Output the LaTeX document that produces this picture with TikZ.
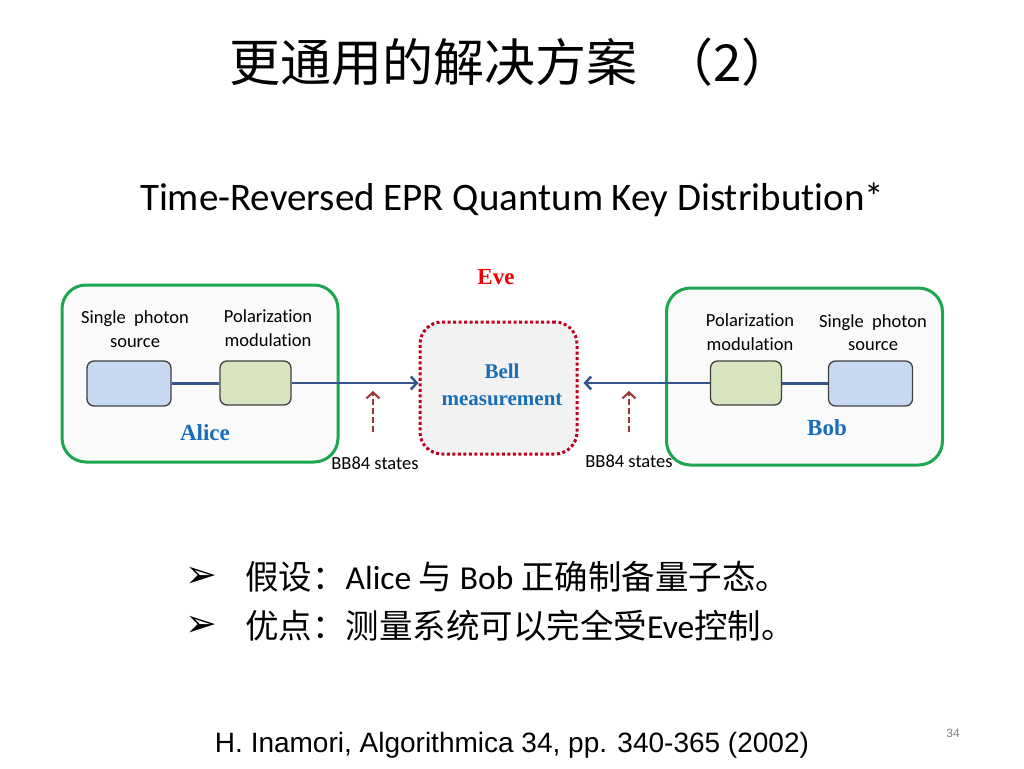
\documentclass[tikz,border=0pt]{standalone}
\usepackage{fontspec}
\setmainfont{Carlito}[Ligatures=NoCommon]
\newfontfamily\cjk{Noto Sans CJK SC}
\newfontfamily\serifb{Liberation Serif}
\newfontfamily\arial{Liberation Sans}
\newfontfamily\symb{DejaVu Sans}
\usetikzlibrary{positioning,arrows.meta}
\definecolor{grbord}{HTML}{1CA650}
\definecolor{partyfill}{HTML}{FAFAFA}
\definecolor{evefill}{HTML}{F2F2F2}
\definecolor{evedot}{HTML}{C00020}
\definecolor{evered}{HTML}{F00000}
\definecolor{boxedge}{HTML}{404040}
\definecolor{srcfill}{HTML}{C6D9F1}
\definecolor{modfill}{HTML}{D7E4BD}
\definecolor{whoblue}{HTML}{1A6EB8}
\definecolor{beamcol}{HTML}{34568A}
\definecolor{bbred}{HTML}{953735}
\definecolor{pagegray}{HTML}{808080}
\begin{document}
\begin{tikzpicture}[x=1pt,y=-1pt,>={Straight Barb[length=6pt,width=13pt]},
	party/.style={draw=grbord, line width=3pt, rounded corners=24pt, fill=partyfill, minimum width=276pt, minimum height=177pt, inner sep=0pt},
	srcbox/.style={draw=boxedge, line width=1.3pt, rounded corners=7pt, fill=srcfill, minimum width=84pt, minimum height=45pt, inner sep=0pt},
	modbox/.style={draw=boxedge, line width=1.3pt, rounded corners=7pt, fill=modfill, minimum width=71pt, minimum height=44pt, inner sep=0pt},
	evebox/.style={draw=evedot, line width=3pt, dash pattern=on 3pt off 2.5pt, rounded corners=22pt, fill=evefill, minimum width=157pt, minimum height=132pt, inner sep=0pt},
	lbl/.style={align=center, inner sep=0pt, font=\fontsize{18.5}{23.5}\selectfont},
	who/.style={align=center, inner sep=0pt, text=whoblue, font=\serifb\bfseries\fontsize{23}{27}\selectfont},
	beam/.style={draw=beamcol, line width=2.5pt},
	bbarrow/.style={draw=bbred, line width=2pt, dash pattern=on 6pt off 3pt, ->}]
	\useasboundingbox[fill=white] (0,0) rectangle (1024,768);
	
	\node[font=\cjk\fontsize{51}{56}\selectfont] (title) at (511,62) {更通用的解决方案\hspace{0.5em}（2）};
	\node[font=\fontsize{39}{44}\selectfont] (sub) at (512,200) {Time-Reversed EPR Quantum Key Distribution*};
	
	% Alice, Eve and Bob
	\node[party] (alice) at (200,373.5) {};
	\node[party] (bob) at (804.5,376.5) {};
	\node[evebox] (eve) at (498.5,388) {};
	\node[srcbox] (srcA) at (129,383.5) {};
	\node[modbox] (modA) at (255.5,383) {};
	\node[modbox] (modB) at (746,383) {};
	\node[srcbox] (srcB) at (870.5,383.5) {};
	
	\node[lbl] (srcAlbl) at (135,329) {Single\ \ photon\\source};
	\node[lbl] (modAlbl) at (268,328) {Polarization\\modulation};
	\node[lbl] (modBlbl) at (750,332) {Polarization\\modulation};
	\node[lbl] (srcBlbl) at (873,332.5) {Single\ \ photon\\source};
	\node[who] (alicelbl) at (205,433) {Alice};
	\node[who] (boblbl) at (827,428) {Bob};
	\node[who, text=evered] (evelbl) at (496,277) {Eve};
	\node[who, font=\serifb\bfseries\fontsize{21}{27}\selectfont] (bell) at (502,384.5) {Bell\\measurement};
	
	\draw[beam] (srcA.east) -- (srcA.east -| modA.west);
	\draw[beam, ->] (modA.east) -- (modA.east -| eve.west);
	\draw[beam] (srcB.west) -- (srcB.west -| modB.east);
	\draw[beam, ->, shorten >=5pt] (modB.west) -- (modB.west -| eve.east);
	
	\coordinate (bbA) at (373,432);
	\coordinate (bbAtip) at (373,391);
	\coordinate (bbB) at (629,432);
	\coordinate (bbBtip) at (629,391);
	\draw[bbarrow] (bbA) -- (bbAtip);
	\draw[bbarrow] (bbB) -- (bbBtip);
	\node[lbl] (bbAlbl) at (375,463) {BB84 states};
	\node[lbl] (bbBlbl) at (629,461) {BB84 states};
	
	% assumptions
	\node[font=\symb\fontsize{38}{40}\selectfont] (b1) at (201,577) {➢};
	\node[font=\symb\fontsize{38}{40}\selectfont] (b2) at (201,626) {➢};
	\node[anchor=west, inner sep=0pt, font=\fontsize{33.5}{38}\selectfont] (t1) at (245,577) {{\cjk 假设：}Alice {\cjk 与} Bob {\cjk 正确制备量子态。}};
	\node[anchor=west, inner sep=0pt, font=\fontsize{33.5}{38}\selectfont] (t2) at (245,626) {{\cjk 优点：测量系统可以完全受}Eve{\cjk 控制。}};
	
	\node[font=\arial\fontsize{28}{32}\selectfont] (ref) at (512,745) {H. Inamori, Algorithmica 34, pp. 340-365 (2002)};
	\node[font=\arial\fontsize{12}{14}\selectfont, text=pagegray] (page) at (953,733) {34};
\end{tikzpicture}
\end{document}
